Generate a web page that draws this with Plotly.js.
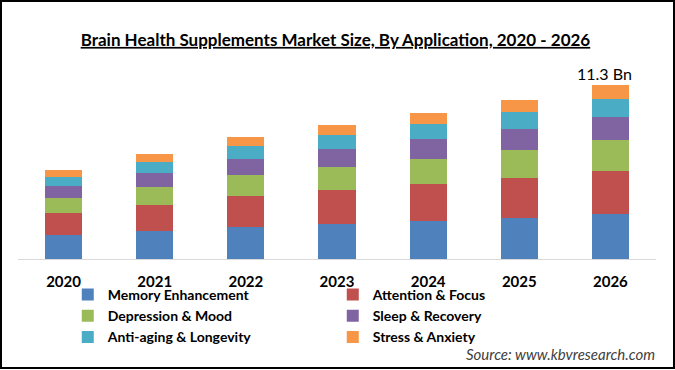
<!DOCTYPE html>
<html>
<head>
<meta charset="utf-8">
<script src="https://cdn.plot.ly/plotly-3.0.1.min.js"></script>
<style>
  html, body { margin: 0; padding: 0; background: #fff; }
  #chart { width: 675px; height: 370px; }
</style>
</head>
<body>
<div id="chart"></div>
<script>
// ---- Data (Bn USD) ----
var years = ['2020', '2021', '2022', '2023', '2024', '2025', '2026'];
var memoryEnhancement   = [1.56, 1.82, 2.08, 2.27, 2.47, 2.66, 2.92];
var attentionFocus      = [1.43, 1.69, 2.01, 2.21, 2.40, 2.60, 2.79];
var depressionMood      = [0.97, 1.17, 1.36, 1.49, 1.62, 1.82, 2.01];
var sleepRecovery       = [0.78, 0.91, 1.04, 1.17, 1.30, 1.36, 1.49];
var antiAgingLongevity  = [0.58, 0.71, 0.84, 0.91, 0.97, 1.10, 1.17];
var stressAnxiety       = [0.45, 0.52, 0.58, 0.65, 0.71, 0.78, 0.91];
var seriesNames = ['Memory Enhancement', 'Attention & Focus', 'Depression & Mood',
                   'Sleep & Recovery', 'Anti-aging & Longevity', 'Stress & Anxiety'];
var seriesColors = ['#4F81BD', '#C0504D', '#9BBB59', '#8064A2', '#4BACC6', '#F79646'];
var seriesValues = [memoryEnhancement, attentionFocus, depressionMood,
                    sleepRecovery, antiAgingLongevity, stressAnxiety];

var FONT = 'Lato, "Open Sans", sans-serif';

var traces = seriesValues.map(function (vals, i) {
  return {
    type: 'bar',
    x: years,
    y: vals,
    name: seriesNames[i],
    marker: { color: seriesColors[i], line: { width: 0 } },
    hoverinfo: 'x+y+name'
  };
});

var lastIdx = years.length - 1;
var lastTotal = seriesValues.reduce(function (s, arr) { return s + arr[lastIdx]; }, 0);

var layout = {
  width: 675,
  height: 370,
  paper_bgcolor: '#ffffff',
  plot_bgcolor: '#ffffff',
  barmode: 'stack',
  bargap: 0.593,
  margin: { l: 18, r: 19, t: 60, b: 111, pad: 0 },
  font: { family: FONT, color: '#000000' },
  title: {
    text: '<b><u>Brain Health Supplements Market Size, By Application, 2020 - 2026</u></b>',
    font: { family: FONT, size: 17, color: '#000000' },
    xref: 'container', x: 0.497, xanchor: 'center',
    yref: 'container', y: 0.892, yanchor: 'middle'
  },
  xaxis: {
    type: 'category',
    range: [-0.5, years.length - 0.5],
    showline: true,
    linecolor: '#d9d9d9',
    linewidth: 1,
    showgrid: false,
    zeroline: false,
    ticks: '',
    ticklabelstandoff: 9,
    tickfont: { family: FONT, size: 15, color: '#000000', weight: 'bold' }
  },
  yaxis: {
    range: [0, 12.92],
    showgrid: false,
    zeroline: false,
    showline: false,
    showticklabels: false,
    ticks: ''
  },
  showlegend: true,
  legend: {
    orientation: 'h',
    x: 0.078, xanchor: 'left',
    y: -0.1, yanchor: 'top',
    entrywidth: 220,
    entrywidthmode: 'pixels',
    traceorder: 'normal',
    font: { family: FONT, size: 14, color: '#000000', weight: 'bold' },
    bgcolor: 'rgba(0,0,0,0)',
    borderwidth: 0
  },
  annotations: [
    {
      x: lastIdx, y: lastTotal, xref: 'x', yref: 'y',
      text: lastTotal.toFixed(1) + ' Bn',
      showarrow: false, xanchor: 'center', yanchor: 'bottom',
      xshift: -6, yshift: 0,
      font: { family: FONT, size: 16, color: '#000000' }
    },
    {
      x: 1.0016, y: -0.477, xref: 'paper', yref: 'paper',
      text: '<i>Source: www.kbvresearch.com</i>',
      showarrow: false, xanchor: 'right', yanchor: 'middle',
      font: { family: FONT, size: 15, color: '#404040' }
    }
  ],
  shapes: [
    {
      type: 'rect', xref: 'paper', yref: 'paper',
      x0: (1 - 18) / 638, x1: (674 - 18) / 638,
      y0: (259 - 368) / 199, y1: (259 - 1) / 199,
      line: { color: '#000000', width: 2 },
      fillcolor: 'rgba(0,0,0,0)',
      layer: 'above'
    }
  ]
};

Plotly.newPlot('chart', traces, layout, { displayModeBar: false, staticPlot: true });
</script>
</body>
</html>
